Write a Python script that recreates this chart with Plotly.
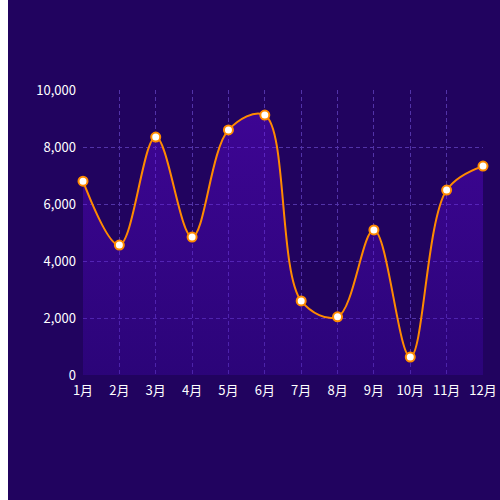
import plotly.graph_objects as go

# monthly values
months = ["1月", "2月", "3月", "4月", "5月", "6月", "7月", "8月", "9月", "10月", "11月", "12月"]
values = [6800, 4560, 8350, 4840, 8600, 9120, 2600, 2040, 5090, 630, 6490, 7330]
y_ticks = [0, 2000, 4000, 6000, 8000, 10000]

bg = "#21035f"
grid = "#5233a8"
orange = "#ff8a00"

fig = go.Figure()
fig.add_trace(go.Scatter(
    x=months, y=values,
    mode="lines+markers",
    line=dict(color=orange, width=2, shape="spline", smoothing=1),
    marker=dict(size=9, color="white", line=dict(color=orange, width=2)),
    fill="tozeroy",
    # translucent so the dashed grid still shows through the area
    fillgradient=dict(type="vertical", colorscale=[[0, "rgba(62,6,169,0.35)"],
                                                   [1, "rgba(113,9,244,0.35)"]]),
    cliponaxis=False,
    hoverinfo="x+y",
))

fig.update_layout(
    width=500, height=500,
    margin=dict(l=75, r=25, t=90, b=125),
    paper_bgcolor=bg,
    plot_bgcolor=bg,
    showlegend=False,
    font=dict(family="Noto Sans CJK SC, Noto Sans, sans-serif", color="#ffffff", size=12),
    xaxis=dict(
        type="category", range=[0, 11],
        showgrid=True, gridcolor=grid, griddash="4px,3px", gridwidth=1,
        zeroline=False, showline=False, ticks="",
        ticklabelstandoff=6,
        tickfont=dict(size=13, color="#ffffff"),
    ),
    yaxis=dict(
        range=[0, 10000], tickvals=y_ticks, tickformat=",",
        showgrid=True, gridcolor=grid, griddash="4px,3px", gridwidth=1,
        zeroline=False, showline=False, ticks="",
        ticklabelstandoff=6,
        tickfont=dict(size=13, color="#ffffff"),
    ),
)

# keep only the page's left margin, as in the reference
fig.write_html("out.html", post_script="document.body.style.margin='0 0 0 8px';")
